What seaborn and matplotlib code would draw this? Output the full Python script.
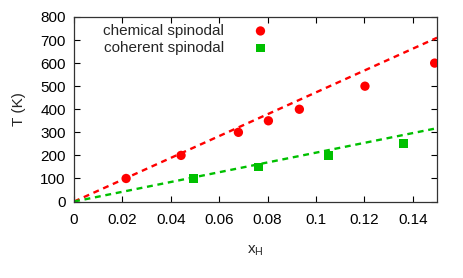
import matplotlib
matplotlib.use("Agg")
import matplotlib.pyplot as plt
import seaborn as sns
import pandas as pd

# data
chem_x = [0.0215, 0.0442, 0.0679, 0.0803, 0.0931, 0.1202, 0.1490]
chem_T = [100, 200, 300, 350, 400, 500, 600]
coh_x = [0.0493, 0.0762, 0.1051, 0.1360]
coh_T = [100, 150, 200, 250]
fit_x = [0.0, 0.15]
chem_fit_T = [0, 710]
coh_fit_T = [0, 318]

x_ticks = [0, 0.02, 0.04, 0.06, 0.08, 0.1, 0.12, 0.14]
x_tick_labels = ["0", "0.02", "0.04", "0.06", "0.08", "0.1", "0.12", "0.14"]
y_ticks = [0, 100, 200, 300, 400, 500, 600, 700, 800]

sns.set_style("ticks")
plt.rcParams["font.family"] = ["Liberation Sans", "DejaVu Sans"]

red = "#ff0000"
green = "#00c000"
fs = 11

fig = plt.figure(figsize=(4.63, 2.78), dpi=100)
ax = fig.add_axes([0.160, 0.275, 0.784, 0.664])

chem = pd.DataFrame({"x": chem_x, "T": chem_T})
coh = pd.DataFrame({"x": coh_x, "T": coh_T})

sns.lineplot(x=fit_x, y=chem_fit_T, ax=ax, color=red, lw=1.7,
             linestyle=(0, (2.5, 2.0)), zorder=2)
sns.lineplot(x=fit_x, y=coh_fit_T, ax=ax, color=green, lw=1.7,
             linestyle=(0, (2.5, 2.0)), zorder=2)
sns.scatterplot(data=chem, x="x", y="T", ax=ax, color=red, marker="o",
                s=45, edgecolor="none", label="chemical spinodal", zorder=3)
sns.scatterplot(data=coh, x="x", y="T", ax=ax, color=green, marker="s",
                s=40, edgecolor="none", label="coherent spinodal", zorder=3)

ax.set_xlim(0, 0.15)
ax.set_ylim(0, 800)
ax.set_xticks(x_ticks)
ax.set_xticklabels(x_tick_labels)
ax.set_yticks(y_ticks)
ax.tick_params(direction="in", length=4, width=0.8, top=True, right=True,
               labelsize=fs, colors="#000000", pad=8)
ax.tick_params(axis="y", pad=6)
for s in ax.spines.values():
    s.set_color("#333333")
    s.set_linewidth(0.9)

ax.set_xlabel("x$_\\mathregular{H}$", fontsize=fs, labelpad=12)
ax.set_ylabel("T (K)", fontsize=fs, labelpad=10)

ax.legend(loc="upper left", bbox_to_anchor=(0.05, 1.02), markerfirst=False,
          frameon=False, fontsize=fs, handletextpad=1.4,
          labelspacing=0.2, borderaxespad=0.3)

fig.savefig("out.png", dpi=100)
